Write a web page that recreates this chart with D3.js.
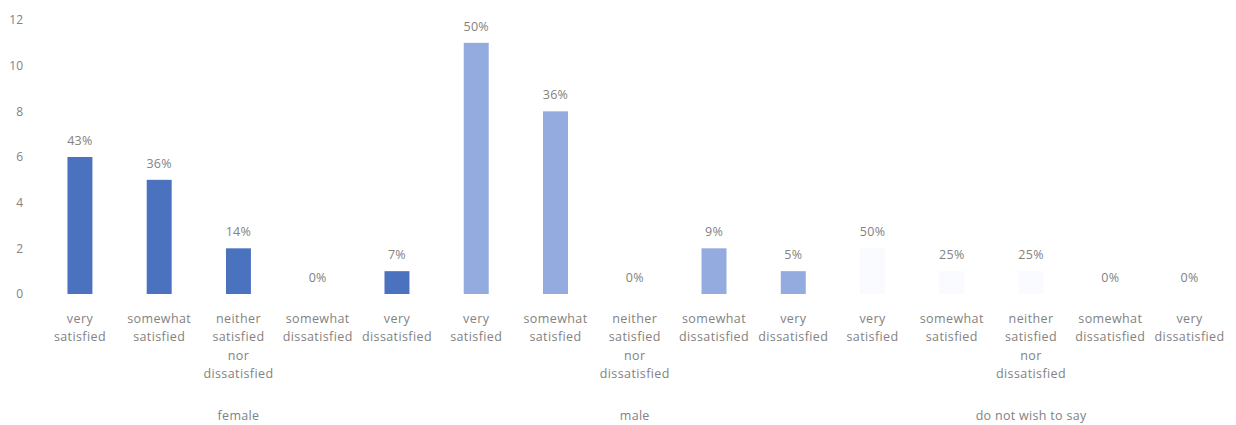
<!DOCTYPE html>
<meta charset="utf-8">
<script src="https://cdn.jsdelivr.net/npm/d3@7"></script>
<style>
body { margin: 0; background: #fff; }
text { font-family: "Open Sans", sans-serif; fill: #828282; }
.tick text { font-size: 12px; }
.cat text { font-size: 12.5px; letter-spacing: 0.4px; }
.lbl { font-size: 12.5px; letter-spacing: 0.3px; }
</style>
<body>
<div id="chart"></div>
<script>
// ---------- data ----------
const groups = ["female", "male", "do not wish to say"];
const answers = [
  ["very", "satisfied"],
  ["somewhat", "satisfied"],
  ["neither", "satisfied", "nor", "dissatisfied"],
  ["somewhat", "dissatisfied"],
  ["very", "dissatisfied"]
];
const femaleCounts = [6, 5, 2, 0, 1];
const maleCounts = [11, 8, 0, 2, 1];
const undisclosedCounts = [2, 1, 1, 0, 0];
const femalePct = ["43%", "36%", "14%", "0%", "7%"];
const malePct = ["50%", "36%", "0%", "9%", "5%"];
const undisclosedPct = ["50%", "25%", "25%", "0%", "0%"];
const yTicks = [0, 2, 4, 6, 8, 10, 12];
const colors = ["#4a72bf", "#93abde", "#fafbfe"];

const counts = [femaleCounts, maleCounts, undisclosedCounts];
const pcts = [femalePct, malePct, undisclosedPct];

const rows = [];
groups.forEach((g, gi) => {
  answers.forEach((a, ai) => {
    rows.push({ key: gi + "-" + ai, group: gi, lines: a, value: counts[gi][ai], pct: pcts[gi][ai] });
  });
});

// ---------- svg ----------
const W = 1236, H = 425;
const plotL = 40.5, plotR = 1229, plotT = 20, plotB = 294;

const svg = d3.select("#chart").append("svg")
  .attr("width", W).attr("height", H);

const x = d3.scaleBand()
  .domain(rows.map(d => d.key))
  .range([plotL, plotR])
  .paddingInner(0.685)
  .paddingOuter(0.34);

const y = d3.scaleLinear().domain([0, 12]).range([plotB, plotT]);

// y axis
const yAxis = svg.append("g")
  .attr("transform", "translate(28,0)")
  .call(d3.axisLeft(y).tickValues(yTicks).tickSize(0).tickPadding(5));
yAxis.select(".domain").remove();

// bars
svg.selectAll("rect.bar")
  .data(rows)
  .join("rect")
  .attr("class", "bar")
  .attr("x", d => x(d.key))
  .attr("width", x.bandwidth())
  .attr("y", d => y(d.value))
  .attr("height", d => y(0) - y(d.value))
  .attr("fill", d => colors[d.group]);

// value labels
svg.selectAll("text.lbl")
  .data(rows)
  .join("text")
  .attr("class", "lbl")
  .attr("x", d => x(d.key) + x.bandwidth() / 2)
  .attr("y", d => y(d.value) - 12)
  .attr("text-anchor", "middle")
  .text(d => d.pct);

// category labels
const cat = svg.append("g").attr("class", "cat");
const ct = cat.selectAll("text")
  .data(rows)
  .join("text")
  .attr("text-anchor", "middle")
  .attr("x", d => x(d.key) + x.bandwidth() / 2)
  .attr("y", 323);
ct.selectAll("tspan")
  .data(d => d.lines.map(l => ({ l, cx: x(d.key) + x.bandwidth() / 2 })))
  .join("tspan")
  .attr("x", d => d.cx)
  .attr("dy", (d, i) => i === 0 ? 0 : 18.3)
  .text(d => d.l);

// group labels
svg.selectAll("text.grp")
  .data(groups)
  .join("text")
  .attr("class", "lbl grp")
  .attr("text-anchor", "middle")
  .attr("x", (g, gi) => {
    const a = x(gi + "-0"), b = x(gi + "-4") + x.bandwidth();
    return (a + b) / 2;
  })
  .attr("y", 420)
  .text(d => d);
</script>
</body>
